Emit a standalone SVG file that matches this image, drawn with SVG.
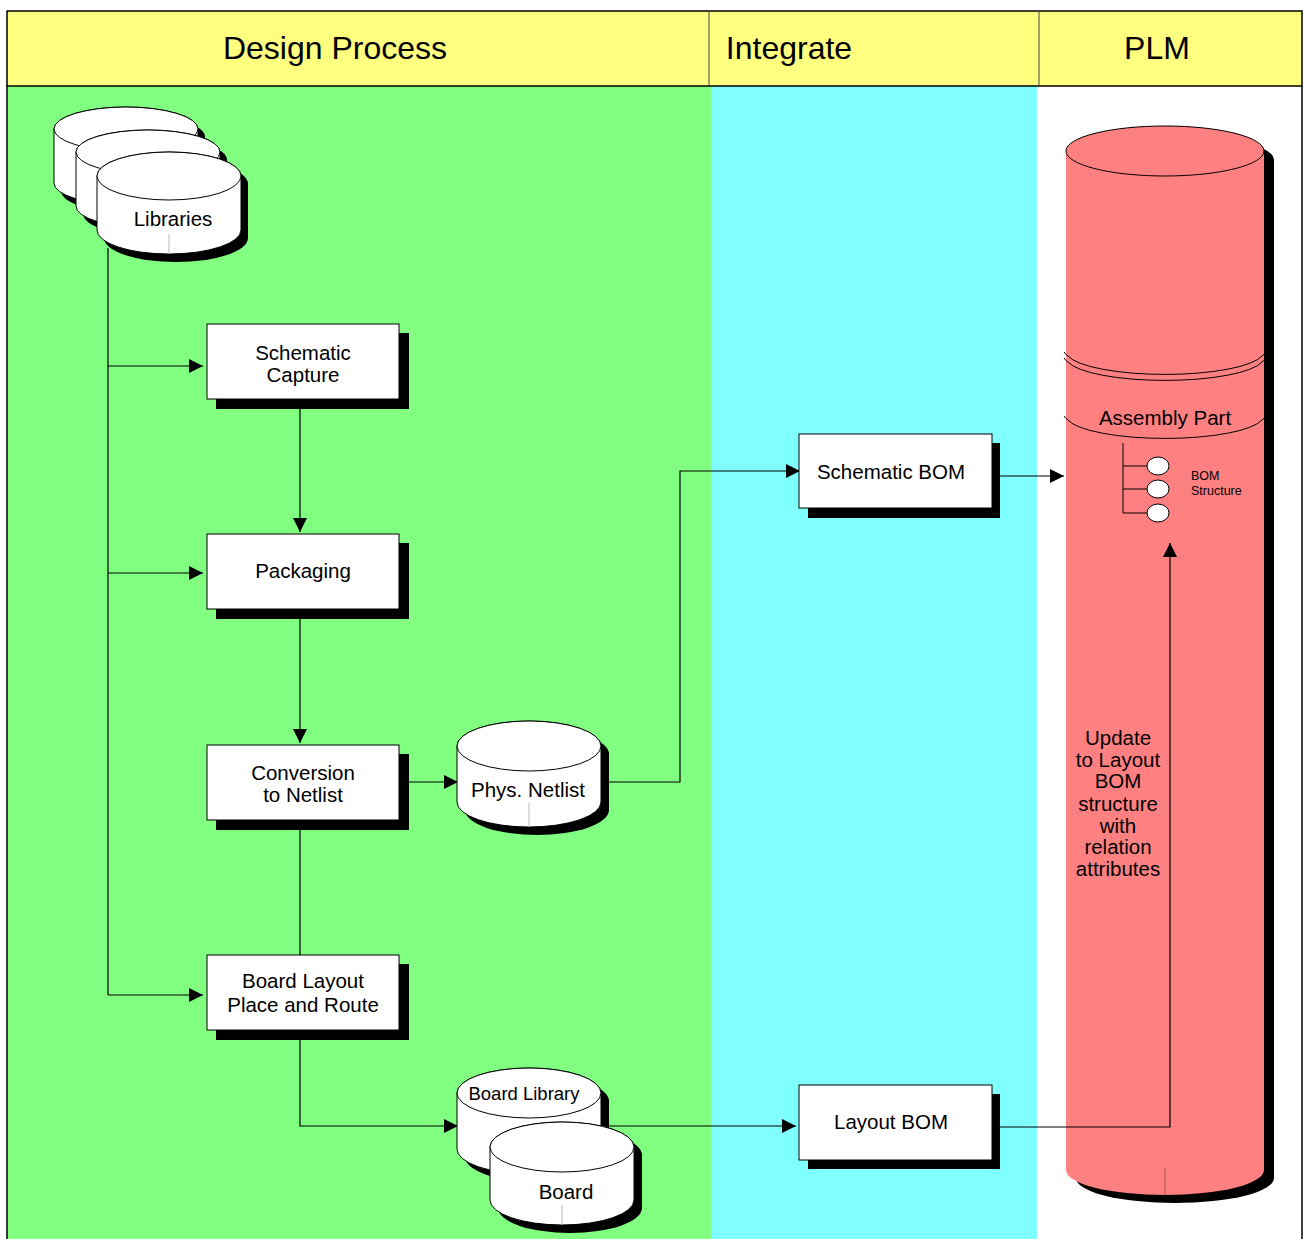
<svg xmlns="http://www.w3.org/2000/svg" width="1306" height="1239" viewBox="0 0 1306 1239">
<defs>
<marker id="arr" markerWidth="14" markerHeight="14" refX="14" refY="7" orient="auto" markerUnits="userSpaceOnUse">
<path d="M0,0 L14,7 L0,14 Z" fill="#000"/>
</marker>
<style>
text{font-family:"Liberation Sans",Arial,Helvetica,sans-serif;fill:#000;text-anchor:middle}
.hdr{font-size:32px}
.lbl{font-size:20.5px}
.small{font-size:12.5px;text-anchor:start}
.box{fill:#fff;stroke:#000;stroke-width:1}
.shd{fill:#000}
.cyl{fill:#fff;stroke:#000;stroke-width:1}
.conn{fill:none;stroke:#000;stroke-width:1.2}
.faint{stroke:#bbb;stroke-width:1}
</style>
</defs>

<!-- lanes -->
<g id="lanes">
<rect x="7" y="86" width="704" height="1153" fill="#80FF80"/>
<rect x="711" y="86" width="326" height="1153" fill="#80FFFF"/>
<rect x="1037" y="86" width="265" height="1153" fill="#fff"/>
<line x1="7" y1="86" x2="7" y2="1239" stroke="#000" stroke-width="1.5"/>
<line x1="1302" y1="86" x2="1302" y2="1239" stroke="#000" stroke-width="1.5"/>
</g>

<!-- header -->
<g id="header">
<rect x="7" y="11" width="1295" height="75" fill="#FFFF80" stroke="#000" stroke-width="1.5"/>
<line x1="709" y1="11" x2="709" y2="86" stroke="#444" stroke-width="1"/>
<line x1="1039" y1="11" x2="1039" y2="86" stroke="#444" stroke-width="1"/>
<text class="hdr" x="335" y="59">Design Process</text>
<text class="hdr" x="789" y="59">Integrate</text>
<text class="hdr" x="1157" y="59">PLM</text>
</g>

<!-- PLM cylinder -->
<g id="plm">
<path d="M1076,160 A99,25 0 0 1 1274,160 L1274,1178 A99,25 0 0 1 1076,1178 Z" fill="#000"/>
<path d="M1066,151 A99,25 0 0 1 1264,151 L1264,1170 A99,25 0 0 1 1066,1170 Z" fill="#FF8080"/>
<ellipse cx="1165" cy="151" rx="99" ry="25" fill="#FF8080" stroke="#000" stroke-width="1"/>
<line x1="1165" y1="1168" x2="1165" y2="1195" stroke="#aa5555" stroke-width="1"/>
<path d="M1064,352 Q1066,355 1068,356 A99,23 0 0 0 1262,356 Q1264,355 1266,352" fill="none" stroke="#000" stroke-width="1"/>
<path d="M1064,358 Q1066,361 1068,362 A99,23 0 0 0 1262,362 Q1264,361 1266,358" fill="none" stroke="#000" stroke-width="1"/>
<path d="M1064,416 Q1066,419 1068,420 A99,23 0 0 0 1262,420 Q1264,419 1266,416" fill="none" stroke="#000" stroke-width="1"/>
<text class="lbl" x="1165" y="425">Assembly Part</text>
<g id="bom-structure">
<path d="M1123,443 V513 M1123,466 H1148 M1123,489 H1148 M1123,513 H1148" fill="none" stroke="#000" stroke-width="1"/>
<ellipse cx="1158" cy="466" rx="11" ry="9" fill="#fff" stroke="#000" stroke-width="1"/>
<ellipse cx="1158" cy="489" rx="11" ry="9" fill="#fff" stroke="#000" stroke-width="1"/>
<ellipse cx="1158" cy="513" rx="11" ry="9" fill="#fff" stroke="#000" stroke-width="1"/>
<text class="small" x="1191" y="480">BOM</text>
<text class="small" x="1191" y="495">Structure</text>
</g>
<g id="update-note">
<text class="lbl" x="1118" y="745">Update</text>
<text class="lbl" x="1118" y="767">to Layout</text>
<text class="lbl" x="1118" y="788">BOM</text>
<text class="lbl" x="1118" y="811">structure</text>
<text class="lbl" x="1118" y="833">with</text>
<text class="lbl" x="1118" y="854">relation</text>
<text class="lbl" x="1118" y="876">attributes</text>
</g>
</g>

<!-- connectors -->
<g id="connectors">
<path class="conn" d="M108,248 V995"/>
<path class="conn" d="M108,366 H203" marker-end="url(#arr)"/>
<path class="conn" d="M108,573 H203" marker-end="url(#arr)"/>
<path class="conn" d="M108,995 H203" marker-end="url(#arr)"/>
<path class="conn" d="M300,409 V532" marker-end="url(#arr)"/>
<path class="conn" d="M300,619 V743" marker-end="url(#arr)"/>
<path class="conn" d="M409,782 H458" marker-end="url(#arr)"/>
<path class="conn" d="M300,829 V955"/>
<path class="conn" d="M300,1039 V1126 H458" marker-end="url(#arr)"/>
<path class="conn" d="M608,782 H680 V471 H800" marker-end="url(#arr)"/>
<path class="conn" d="M608,1126 H796" marker-end="url(#arr)"/>
<path class="conn" d="M1000,476 H1064" marker-end="url(#arr)"/>
<path class="conn" d="M1000,1127 H1170 V543" marker-end="url(#arr)"/>
</g>

<!-- Libraries -->
<g id="libraries">
<path class="shd" d="M61,137 A72,22 0 0 1 205,137 L205,191 A72,22 0 0 1 61,191 Z"/>
<path class="cyl" d="M54,129 A72,22 0 0 1 198,129 L198,183 A72,22 0 0 1 54,183 Z"/>
<ellipse class="cyl" cx="126" cy="129" rx="72" ry="22"/>
<path class="shd" d="M83,160 A72,22 0 0 1 227,160 L227,214 A72,22 0 0 1 83,214 Z"/>
<path class="cyl" d="M76,152 A72,22 0 0 1 220,152 L220,206 A72,22 0 0 1 76,206 Z"/>
<ellipse class="cyl" cx="148" cy="152" rx="72" ry="22"/>
<path class="shd" d="M104,184 A72,24 0 0 1 248,184 L248,238 A72,24 0 0 1 104,238 Z"/>
<path class="cyl" d="M97,176 A72,24 0 0 1 241,176 L241,230 A72,24 0 0 1 97,230 Z"/>
<ellipse class="cyl" cx="169" cy="176" rx="72" ry="24"/>
<line class="faint" x1="169" y1="234" x2="169" y2="254"/>
<text class="lbl" x="173" y="226">Libraries</text>
</g>

<!-- Process boxes -->
<g id="schematic-capture">
<rect class="shd" x="216" y="333" width="193" height="76"/>
<rect class="box" x="207" y="324" width="192" height="75"/>
<text class="lbl" x="303" y="360">Schematic</text>
<text class="lbl" x="303" y="382">Capture</text>
</g>
<g id="packaging">
<rect class="shd" x="216" y="543" width="193" height="76"/>
<rect class="box" x="207" y="534" width="192" height="75"/>
<text class="lbl" x="303" y="578">Packaging</text>
</g>
<g id="conversion">
<rect class="shd" x="216" y="754" width="193" height="76"/>
<rect class="box" x="207" y="745" width="192" height="75"/>
<text class="lbl" x="303" y="780">Conversion</text>
<text class="lbl" x="303" y="802">to Netlist</text>
</g>
<g id="board-layout">
<rect class="shd" x="216" y="964" width="193" height="76"/>
<rect class="box" x="207" y="955" width="192" height="75"/>
<text class="lbl" x="303" y="988">Board Layout</text>
<text class="lbl" x="303" y="1012">Place and Route</text>
</g>

<!-- Phys. Netlist -->
<g id="phys-netlist">
<path class="shd" d="M465,754 A72,25 0 0 1 609,754 L609,810 A72,25 0 0 1 465,810 Z"/>
<path class="cyl" d="M457,746 A72,25 0 0 1 601,746 L601,802 A72,25 0 0 1 457,802 Z"/>
<ellipse class="cyl" cx="529" cy="746" rx="72" ry="25"/>
<line class="faint" x1="529" y1="803" x2="529" y2="827"/>
<text class="lbl" x="528" y="797">Phys. Netlist</text>
</g>

<!-- Board Library / Board -->
<g id="board-library">
<path class="shd" d="M465,1101 A72,25 0 0 1 609,1101 L609,1157 A72,25 0 0 1 465,1157 Z"/>
<path class="cyl" d="M457,1093 A72,25 0 0 1 601,1093 L601,1149 A72,25 0 0 1 457,1149 Z"/>
<ellipse class="cyl" cx="529" cy="1093" rx="72" ry="25"/>
<text x="524" y="1100" style="font-size:18.5px">Board Library</text>
</g>
<g id="board">
<path class="shd" d="M498,1155 A72,25 0 0 1 642,1155 L642,1208 A72,25 0 0 1 498,1208 Z"/>
<path class="cyl" d="M490,1147 A72,25 0 0 1 634,1147 L634,1200 A72,25 0 0 1 490,1200 Z"/>
<ellipse class="cyl" cx="562" cy="1147" rx="72" ry="25"/>
<line class="faint" x1="562" y1="1205" x2="562" y2="1225"/>
<text class="lbl" x="566" y="1199">Board</text>
</g>

<!-- BOM boxes -->
<g id="schematic-bom">
<rect class="shd" x="808" y="443" width="192" height="75"/>
<rect class="box" x="799" y="434" width="193" height="74"/>
<text class="lbl" x="891" y="479">Schematic BOM</text>
</g>
<g id="layout-bom">
<rect class="shd" x="808" y="1094" width="192" height="75"/>
<rect class="box" x="799" y="1085" width="193" height="75"/>
<text class="lbl" x="891" y="1129">Layout BOM</text>
</g>
</svg>
